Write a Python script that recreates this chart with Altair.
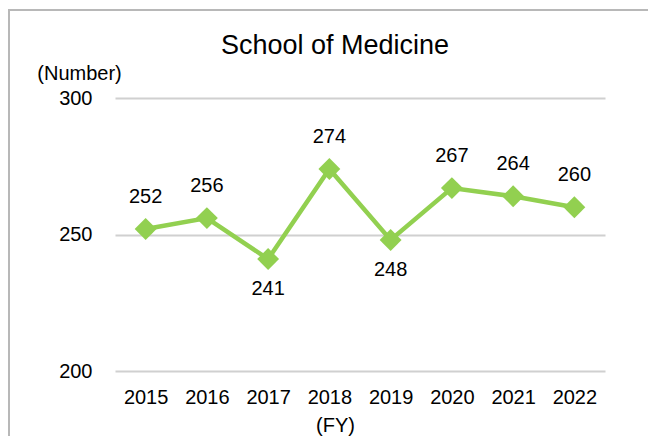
import altair as alt
import pandas as pd

years = ["2015", "2016", "2017", "2018", "2019", "2020", "2021", "2022"]
values = [252, 256, 241, 274, 248, 267, 264, 260]
label_side = ["above", "above", "below", "above", "below", "above", "above", "above"]
chart_title = "School of Medicine"

df = pd.DataFrame({"year": years, "value": values, "side": label_side})

FONT = "Liberation Sans"
GREEN = "#92D050"

x_enc = alt.X(
    "year:N",
    sort=years,
    scale=alt.Scale(type="point", padding=0.5),
    axis=alt.Axis(
        title="(FY)",
        labelAngle=0,
        domain=False,
        ticks=False,
        grid=False,
        labelFontSize=20,
        labelFont=FONT,
        labelColor="#000000",
        labelPadding=16,
        titleFont=FONT,
        titleFontSize=20,
        titleFontWeight="normal",
        titleColor="#000000",
        titleX=220,
        titleY=54,
        titleBaseline="middle",
        titleAlign="center",
    ),
)
y_enc = alt.Y(
    "value:Q",
    scale=alt.Scale(domain=[200, 300], nice=False, zero=False),
    axis=alt.Axis(
        title="(Number)",
        values=[200, 250, 300],
        domain=False,
        ticks=False,
        grid=True,
        gridColor="#D0D0D0",
        gridWidth=2,
        labelFontSize=20,
        labelFont=FONT,
        labelColor="#000000",
        labelPadding=23,
        titleFont=FONT,
        titleFontSize=20,
        titleFontWeight="normal",
        titleColor="#000000",
        titleAngle=0,
        titleX=-36,
        titleY=-25,
        titleAlign="center",
        titleBaseline="middle",
    ),
)

base = alt.Chart(df).encode(x=x_enc, y=y_enc)

first_row = alt.datum.year == years[0]

border = alt.Chart(df).mark_rect(
    fill=None, stroke="#B8B8B8", strokeWidth=2, clip=False
).encode(
    x=alt.value(-106), x2=alt.value(560), y=alt.value(-88), y2=alt.value(380)
).transform_filter(first_row)

title_mark = alt.Chart(df).mark_text(
    font=FONT, fontSize=27, color="#000000", align="center", baseline="middle"
).encode(
    x=alt.value(220), y=alt.value(-52), text=alt.value(chart_title)
).transform_filter(first_row)

line = base.mark_line(color=GREEN, strokeWidth=4.5)
points = base.mark_point(shape="diamond", filled=True, opacity=1, size=480, color=GREEN)
text_above = base.mark_text(
    dy=-32, fontSize=20, font=FONT, color="#000000", baseline="middle"
).encode(text="value:Q").transform_filter(alt.datum.side == "above")
text_below = base.mark_text(
    dy=30, fontSize=20, font=FONT, color="#000000", baseline="middle"
).encode(text="value:Q").transform_filter(alt.datum.side == "below")

chart = (
    alt.layer(border, title_mark, line, points, text_above, text_below)
    .properties(
        width=490,
        height=273,
        background="white",
        autosize=alt.AutoSizeParams(type="none"),
        padding={"left": 107, "top": 90, "right": 43, "bottom": 65},
    )
    .configure_view(strokeWidth=0, stroke="transparent")
)

chart.save("out.html", embed_options={"renderer": "svg", "actions": False})
